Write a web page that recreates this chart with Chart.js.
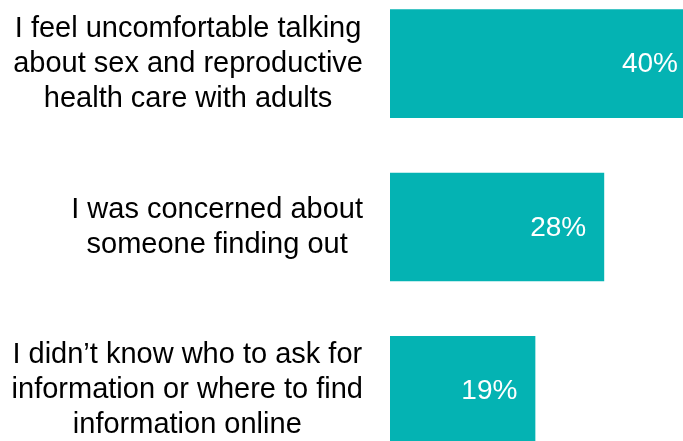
<!DOCTYPE html>
<html>
<head>
<meta charset="utf-8">
<script src="https://cdn.jsdelivr.net/npm/chart.js@4"></script>
<style>
  html, body { margin: 0; padding: 0; background: #fff; overflow: hidden; }
  body { width: 683px; height: 441px; position: relative; }
  #wrap { position: absolute; left: 0; top: -18px; width: 683px; height: 490px; }
</style>
</head>
<body>
<div id="wrap"><canvas id="chart"></canvas></div>
<script>
const categories = [
    ["I feel uncomfortable talking", "about sex and reproductive", "health care with adults"],
    ["I was concerned about", "someone finding out"],
    ["I didn\u2019t know who to ask for", "information or where to find", "information online"]
];
const values = [40, 28, 19];

const barColor = '#04b3b3';
const labelFont = '29px "Liberation Sans", Arial, sans-serif';
const valueFont = '28px "Liberation Sans", Arial, sans-serif';

// category labels: each block right-aligned, lines centred inside the block
const categoryLabels = {
    id: 'categoryLabels',
    afterDraw(chart) {
        const ctx = chart.ctx;
        const yScale = chart.scales.y;
        const right = 363;
        const lineHeight = 35;
        ctx.save();
        ctx.font = labelFont;
        ctx.fillStyle = '#000';
        ctx.textAlign = 'center';
        ctx.textBaseline = 'middle';
        categories.forEach((lines, i) => {
            const cy = yScale.getPixelForValue(i);
            const w = Math.max(...lines.map(l => ctx.measureText(l).width));
            const cx = right - w / 2;
            const startY = cy - (lines.length - 1) * lineHeight / 2;
            lines.forEach((l, j) => ctx.fillText(l, cx, startY + j * lineHeight));
        });
        ctx.restore();
    }
};

// value labels inside the bar end
const valueLabels = {
    id: 'valueLabels',
    afterDatasetsDraw(chart) {
        const ctx = chart.ctx;
        const meta = chart.getDatasetMeta(0);
        ctx.save();
        ctx.font = valueFont;
        ctx.fillStyle = '#fff';
        ctx.textAlign = 'right';
        ctx.textBaseline = 'middle';
        meta.data.forEach((bar, i) => {
            ctx.fillText(values[i] + '%', bar.x - 18, bar.y + 1);
        });
        ctx.restore();
    }
};

new Chart(document.getElementById('chart').getContext('2d'), {
    type: 'bar',
    data: {
        labels: categories,
        datasets: [{
            data: values,
            backgroundColor: barColor,
            borderWidth: 0,
            barPercentage: 0.665,
            categoryPercentage: 1
        }]
    },
    options: {
        indexAxis: 'y',
        responsive: true,
        maintainAspectRatio: false,
        animation: false,
        layout: { padding: { left: 390, right: 0, top: 0, bottom: 0 } },
        plugins: {
            legend: { display: false },
            tooltip: { enabled: false }
        },
        scales: {
            x: { display: false, min: 0, max: 38.3 },
            y: { display: false }
        }
    },
    plugins: [categoryLabels, valueLabels]
});
</script>
</body>
</html>
